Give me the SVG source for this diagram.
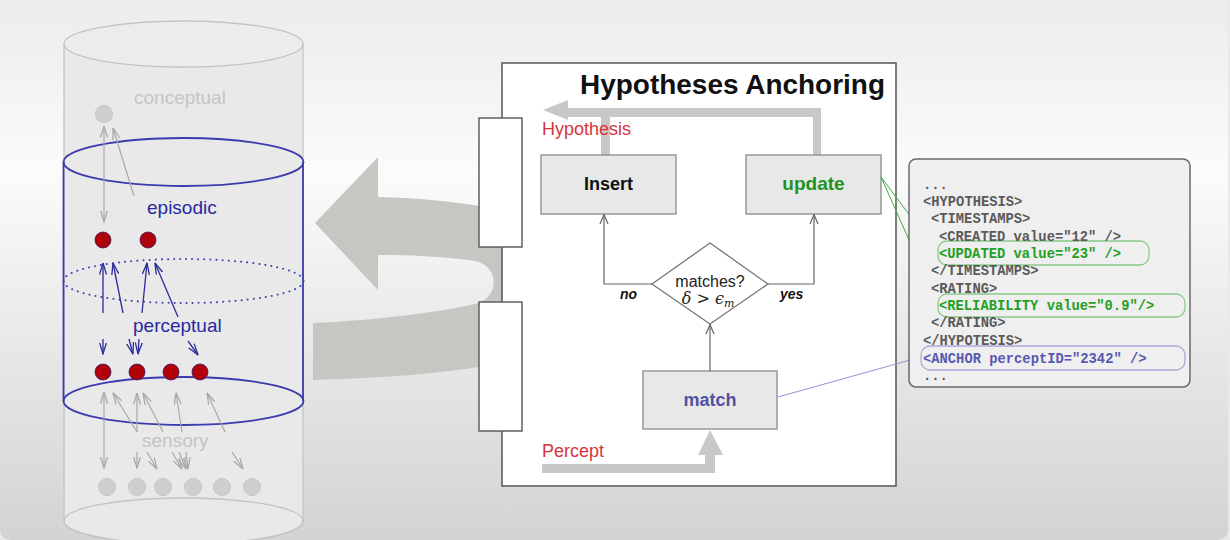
<svg xmlns="http://www.w3.org/2000/svg" width="1230" height="540" viewBox="0 0 1230 540">
  <defs>
    <linearGradient id="bg" x1="0" y1="0" x2="0" y2="1">
      <stop offset="0" stop-color="#ebebeb"/>
      <stop offset="0.33" stop-color="#fbfbfb"/>
      <stop offset="1" stop-color="#d3d3d3"/>
    </linearGradient>
    <!-- open V arrowheads -->
    <marker id="vBlue" viewBox="0 0 12 8" refX="11.5" refY="4" markerWidth="12" markerHeight="8" markerUnits="userSpaceOnUse" orient="auto-start-reverse">
      <path d="M0,0.5 L11.5,4 L0,7.5" fill="none" stroke="#2c2c9c" stroke-width="1.3"/>
    </marker>
    <marker id="vGray" viewBox="0 0 12 8" refX="11.5" refY="4" markerWidth="12" markerHeight="8" markerUnits="userSpaceOnUse" orient="auto-start-reverse">
      <path d="M0,0.5 L11.5,4 L0,7.5" fill="none" stroke="#a9a9a9" stroke-width="1.3"/>
    </marker>
    <marker id="vFlow" viewBox="0 0 10 10" refX="9.5" refY="5" markerWidth="10" markerHeight="10" markerUnits="userSpaceOnUse" orient="auto">
      <path d="M0,1 L9.5,5 L0,9" fill="none" stroke="#666" stroke-width="1.2"/>
    </marker>
    <style>
      .sans { font-family: "Liberation Sans", Arial, sans-serif; }
      .mono { font-family: "Liberation Mono", "Courier New", monospace; font-size: 13.8px; font-weight: bold; }
      .lblue { fill: #2828a0; font-size: 19px; }
      .lgray { fill: #c4c4c4; font-size: 19px; }
      .red { fill: #d8343c; font-size: 18px; }
      .blueLine { stroke: #2c2c9c; stroke-width: 1.3; fill: none; marker-end: url(#vBlue); }
      .grayLine { stroke: #a9a9a9; stroke-width: 1.2; fill: none; marker-end: url(#vGray); }
      .flow { stroke: #666; stroke-width: 1.2; fill: none; marker-end: url(#vFlow); }
      .box { fill: #e8e8e8; stroke: #8a8a8a; stroke-width: 1.3; }
      .port { fill: #ffffff; stroke: #555; stroke-width: 1.4; }
      .redNode { fill: #b00008; stroke: #3a1a6a; stroke-width: 0.8; }
      .grayNode { fill: #cfcfcf; stroke: #c6c6c6; stroke-width: 1; }
      .thick { fill: #c8c8c8; }
      .xml { fill: #5a5a5a; }
      .xmlGreen { fill: #23a023; }
      .xmlBlue { fill: #5858b0; }
    </style>
  </defs>

  <!-- background -->
  <rect x="0" y="0" width="1230" height="540" fill="#e9e9e9"/>
  <rect x="0" y="-10" width="1228" height="550" rx="10" fill="url(#bg)"/>

  <!-- memory cylinder -->
  <g id="memory">
    <path d="M64,44 L64,521 A119.5,23 0 0 0 303,521 L303,44 Z" fill="#e9e9e9" stroke="#c4c4c4" stroke-width="1.3"/>
    <ellipse cx="183.5" cy="44" rx="119.5" ry="23" fill="#ececec" stroke="#c4c4c4" stroke-width="1.3"/>
    <ellipse cx="183.5" cy="521" rx="119.5" ry="23" fill="none" stroke="#c4c4c4" stroke-width="1.3"/>
  </g>
  <g id="layers">
    <line x1="63.5" y1="162" x2="63.5" y2="401" stroke="#3c3cae" stroke-width="1.8"/>
    <line x1="303" y1="162" x2="303" y2="401" stroke="#3c3cae" stroke-width="1.8"/>
    <ellipse cx="183.5" cy="162" rx="120" ry="24" fill="none" stroke="#3c3cae" stroke-width="1.8"/>
    <ellipse cx="183.5" cy="281" rx="120" ry="22" fill="none" stroke="#4444b4" stroke-width="2" stroke-dasharray="0.1 6" stroke-linecap="round"/>
    <ellipse cx="183.5" cy="401" rx="120" ry="24" fill="none" stroke="#3c3cae" stroke-width="1.8"/>
  </g>

  <g id="layer-labels" class="sans">
    <text x="134" y="104" class="lgray">conceptual</text>
    <text x="147" y="214" class="lblue">episodic</text>
    <text x="133" y="332" class="lblue">perceptual</text>
    <text x="142" y="447" class="lgray">sensory</text>
  </g>

  <!-- links between layer nodes -->
  <g id="layer-links">
    <line x1="104" y1="222" x2="104" y2="126" class="grayLine" marker-start="url(#vGray)"/>
    <line x1="134" y1="196" x2="113" y2="128" class="grayLine"/>

    <line x1="103" y1="313" x2="103" y2="263" class="blueLine"/>
    <line x1="123" y1="313" x2="113" y2="263" class="blueLine"/>
    <line x1="142" y1="313" x2="147" y2="263" class="blueLine"/>
    <line x1="178" y1="317" x2="155" y2="263" class="blueLine"/>
    <line x1="103" y1="339" x2="103" y2="354" class="blueLine"/>
    <line x1="129" y1="339" x2="133" y2="354" class="blueLine"/>
    <line x1="139" y1="339" x2="138" y2="354" class="blueLine"/>
    <line x1="188" y1="341" x2="198" y2="355" class="blueLine"/>

    <line x1="104" y1="392" x2="104" y2="468" class="grayLine" marker-start="url(#vGray)"/>
    <line x1="137" y1="432" x2="113" y2="393" class="grayLine"/>
    <line x1="137" y1="432" x2="137" y2="393" class="grayLine"/>
    <line x1="163" y1="432" x2="143" y2="393" class="grayLine"/>
    <line x1="182" y1="432" x2="176" y2="393" class="grayLine"/>
    <line x1="225" y1="432" x2="207" y2="393" class="grayLine"/>
    <line x1="137" y1="452" x2="137" y2="468" class="grayLine"/>
    <line x1="147" y1="452" x2="157" y2="469" class="grayLine"/>
    <line x1="172" y1="452" x2="182" y2="469" class="grayLine"/>
    <line x1="179" y1="452" x2="186" y2="469" class="grayLine"/>
    <line x1="186" y1="452" x2="188" y2="469" class="grayLine"/>
    <line x1="232" y1="452" x2="243" y2="469" class="grayLine"/>
  </g>

  <g id="layer-nodes">
    <circle cx="104" cy="114" r="8.5" class="grayNode"/>
    <circle cx="103" cy="240" r="8" class="redNode"/>
    <circle cx="148" cy="240" r="8" class="redNode"/>
    <circle cx="103" cy="372" r="8" class="redNode"/>
    <circle cx="137" cy="372" r="8" class="redNode"/>
    <circle cx="171" cy="372" r="8" class="redNode"/>
    <circle cx="200" cy="372" r="8" class="redNode"/>
    <circle cx="107" cy="487" r="8.5" class="grayNode"/>
    <circle cx="137" cy="487" r="8.5" class="grayNode"/>
    <circle cx="163" cy="487" r="8.5" class="grayNode"/>
    <circle cx="193" cy="487" r="8.5" class="grayNode"/>
    <circle cx="222" cy="487" r="8.5" class="grayNode"/>
    <circle cx="252" cy="487" r="8.5" class="grayNode"/>
  </g>

  <!-- U-turn feedback arrow behind the anchoring box -->
  <g id="feedback-arrow">
    <path d="M315,223 L378,157 L378,197 C420,198 460,202 490,208 C560,222 575,340 490,365 C440,374 380,378 313,380 L313,323 C380,320 440,312 475,304 C500,298 500,266 475,261 C440,256 410,255 378,255 L378,290 Z" fill="#c7c6c2"/>
  </g>

  <!-- anchoring module -->
  <g id="anchoring">
    <rect x="502" y="63" width="394" height="423" fill="#ffffff" stroke="#555" stroke-width="1.5"/>
    <text x="580" y="94" class="sans" font-size="27" font-weight="bold" fill="#111" textLength="305" lengthAdjust="spacingAndGlyphs">Hypotheses Anchoring</text>
  </g>
  <g id="port-out"><rect x="479" y="118" width="43" height="129" class="port"/></g>
  <g id="port-in"><rect x="479" y="302" width="43" height="129" class="port"/></g>

  <!-- data flow bands -->
  <g id="flows">
    <path d="M543,110 L568,100 L568,108 L813,108 L821,108 L821,155 L813,155 L813,117 L610,117 L610,155 L601,155 L601,117 L568,117 L568,120 Z" class="thick"/>
    <path d="M542,464 L705,464 L705,455 L698,455 L710,430 L723,455 L715,455 L715,473 L542,473 Z" class="thick"/>
    <text x="542" y="135" class="sans red">Hypothesis</text>
    <text x="542" y="457" class="sans red">Percept</text>
  </g>

  <g id="insert">
    <rect x="541" y="155" width="135" height="59" class="box"/>
    <text x="608.5" y="190" class="sans" font-size="18" font-weight="bold" fill="#111" text-anchor="middle">Insert</text>
  </g>
  <g id="update">
    <rect x="746" y="155" width="135" height="59" class="box"/>
    <text x="813.5" y="190" class="sans" font-size="19" font-weight="bold" fill="#1f931f" text-anchor="middle">update</text>
  </g>
  <g id="decision">
    <polygon points="710,243 768,284 710,324 652,284" fill="#ffffff" stroke="#777" stroke-width="1.3"/>
    <text x="710" y="287" class="sans" font-size="16" fill="#222" text-anchor="middle">matches?</text>
    <text x="708" y="304" font-family="'DejaVu Serif','Liberation Serif',serif" font-size="16" fill="#222" text-anchor="middle"><tspan font-style="italic">δ</tspan> &gt; <tspan font-style="italic">ϵ</tspan><tspan font-style="italic" font-size="11" dy="3">m</tspan></text>
  </g>
  <g id="match">
    <rect x="643" y="371" width="134" height="58" class="box"/>
    <text x="710" y="406" class="sans" font-size="18" font-weight="bold" fill="#5252a2" text-anchor="middle">match</text>
  </g>

  <g id="connectors">
    <polyline points="652,284 604,284 604,214.5" class="flow"/>
    <polyline points="768,284 814,284 814,214.5" class="flow"/>
    <line x1="710" y1="371" x2="710" y2="324.5" class="flow"/>
    <text x="620" y="299" class="sans" font-size="14" font-weight="bold" font-style="italic" fill="#111">no</text>
    <text x="780" y="299" class="sans" font-size="14" font-weight="bold" font-style="italic" fill="#111">yes</text>
    <line x1="881" y1="177" x2="938" y2="253" stroke="#3fae3f" stroke-width="1"/>
    <line x1="881" y1="177" x2="938" y2="305" stroke="#3fae3f" stroke-width="1"/>
    <line x1="778" y1="397" x2="921" y2="357" stroke="#9a9ad8" stroke-width="1.2"/>
  </g>

  <!-- hypothesis record -->
  <g id="record">
    <rect x="909" y="159" width="281" height="228" rx="7" fill="#efefef" stroke="#6a6a6a" stroke-width="1.5"/>
    <rect x="938" y="241" width="211" height="24" rx="9" fill="none" stroke="#86cc86" stroke-width="1.3"/>
    <rect x="938" y="294" width="247" height="23" rx="9" fill="none" stroke="#86cc86" stroke-width="1.3"/>
    <rect x="921" y="346" width="264" height="24" rx="9" fill="none" stroke="#aaaad8" stroke-width="1.3"/>
    <g class="mono">
      <text x="923" y="189" class="xml">...</text>
      <text x="923" y="206" class="xml">&lt;HYPOTHESIS&gt;</text>
      <text x="931" y="223" class="xml">&lt;TIMESTAMPS&gt;</text>
      <text x="939" y="241" class="xml">&lt;CREATED value="12" /&gt;</text>
      <text x="939" y="258" class="xmlGreen">&lt;UPDATED value="23" /&gt;</text>
      <text x="931" y="275" class="xml">&lt;/TIMESTAMPS&gt;</text>
      <text x="931" y="293" class="xml">&lt;RATING&gt;</text>
      <text x="939" y="310" class="xmlGreen">&lt;RELIABILITY value="0.9"/&gt;</text>
      <text x="931" y="327" class="xml">&lt;/RATING&gt;</text>
      <text x="923" y="345" class="xml">&lt;/HYPOTESIS&gt;</text>
      <text x="923" y="363" class="xmlBlue">&lt;ANCHOR perceptID="2342" /&gt;</text>
      <text x="923" y="380" class="xml">...</text>
    </g>
  </g>
</svg>
